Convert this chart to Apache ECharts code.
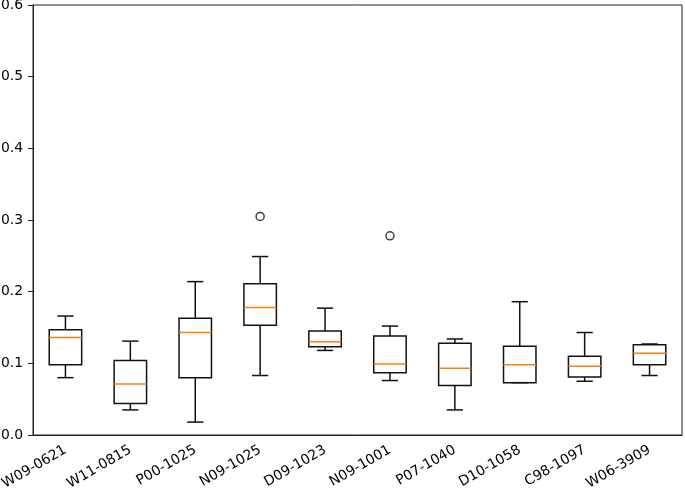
<!DOCTYPE html>
<html>
<head>
<meta charset="utf-8">
<script src="https://cdn.jsdelivr.net/npm/echarts@6/dist/echarts.min.js"></script>
<style>html,body{margin:0;padding:0;background:#fff}#c{width:685px;height:488px}</style>
</head>
<body>
<div id="c"></div>
<script>
const categories = ['W09-0621','W11-0815','P00-1025','N09-1025','D09-1023','N09-1001','P07-1040','D10-1058','C98-1097','W06-3909'];
const whiskerLow  = [0.080, 0.035, 0.018, 0.083, 0.118, 0.076, 0.035, 0.073, 0.075, 0.083];
const q1Values    = [0.098, 0.044, 0.080, 0.153, 0.123, 0.087, 0.069, 0.073, 0.081, 0.098];
const medians     = [0.136, 0.071, 0.143, 0.178, 0.130, 0.099, 0.093, 0.098, 0.096, 0.114];
const q3Values    = [0.147, 0.104, 0.163, 0.211, 0.145, 0.138, 0.128, 0.124, 0.110, 0.126];
const whiskerHigh = [0.166, 0.131, 0.214, 0.249, 0.177, 0.152, 0.134, 0.186, 0.143, 0.127];
const outlierCats   = ['N09-1025', 'N09-1001'];
const outlierValues = [0.305, 0.278];
const yTicks = [0, 0.1, 0.2, 0.3, 0.4, 0.5, 0.6];

const boxData = categories.map((c, i) => [i, whiskerLow[i], q1Values[i], medians[i], q3Values[i], whiskerHigh[i]]);
const outlierData = outlierCats.map((c, i) => [c, outlierValues[i]]);

const chart = echarts.init(document.getElementById('c'), null, {renderer: 'canvas'});
const font = 'DejaVu Sans';
const lw = 1.5;
const axisColor = '#222';
chart.setOption({
  animation: false,
  backgroundColor: '#fff',
  grid: {left: 33, right: 3, top: 5, bottom: 53, show: true, borderColor: axisColor, borderWidth: 1,
         containLabel: false, outerBoundsMode: 'none'},
  xAxis: {
    type: 'category', data: categories, boundaryGap: true,
    axisLine: {lineStyle: {color: axisColor, width: 1}},
    axisTick: {alignWithLabel: true, length: 5, lineStyle: {color: axisColor}},
    axisLabel: {rotate: 30, color: '#000', fontFamily: font, fontSize: 13.9, margin: 14, hideOverlap: false}
  },
  yAxis: {
    type: 'value', min: yTicks[0], max: yTicks[yTicks.length - 1], interval: 0.1,
    splitLine: {show: false},
    axisLine: {show: true, lineStyle: {color: axisColor, width: 1}},
    axisTick: {show: true, length: 5, lineStyle: {color: axisColor}},
    axisLabel: {color: '#000', fontFamily: font, fontSize: 13.9, margin: 10, formatter: v => v.toFixed(1)}
  },
  series: [
    {
      type: 'custom',
      data: boxData,
      encode: {x: 0, y: [1, 2, 3, 4, 5]},
      renderItem: function (params, api) {
        const idx = api.value(0);
        const x = api.coord([idx, 0])[0];
        const bw = api.size([1, 0])[0] * 0.5;
        const yLo = api.coord([idx, api.value(1)])[1];
        const yQ1 = api.coord([idx, api.value(2)])[1];
        const yMed = api.coord([idx, api.value(3)])[1];
        const yQ3 = api.coord([idx, api.value(4)])[1];
        const yHi = api.coord([idx, api.value(5)])[1];
        const st = {stroke: '#111', lineWidth: lw, fill: null};
        const cap = bw / 4;
        return {
          type: 'group',
          children: [
            {type: 'line', shape: {x1: x, y1: yQ1, x2: x, y2: yLo}, style: st},
            {type: 'line', shape: {x1: x, y1: yQ3, x2: x, y2: yHi}, style: st},
            {type: 'line', shape: {x1: x - cap, y1: yLo, x2: x + cap, y2: yLo}, style: st},
            {type: 'line', shape: {x1: x - cap, y1: yHi, x2: x + cap, y2: yHi}, style: st},
            {type: 'rect', shape: {x: x - bw / 2, y: yQ3, width: bw, height: yQ1 - yQ3}, style: {stroke: '#111', lineWidth: lw, fill: 'rgba(0,0,0,0)'}},
            {type: 'line', shape: {x1: x - bw / 2, y1: yMed, x2: x + bw / 2, y2: yMed}, style: {stroke: '#ff7f0e', lineWidth: lw}}
          ]
        };
      }
    },
    {
      type: 'scatter',
      data: outlierData,
      symbol: 'circle',
      symbolSize: 8,
      itemStyle: {color: '#fff', borderColor: '#111', borderWidth: lw}
    }
  ]
});
</script>
</body>
</html>
